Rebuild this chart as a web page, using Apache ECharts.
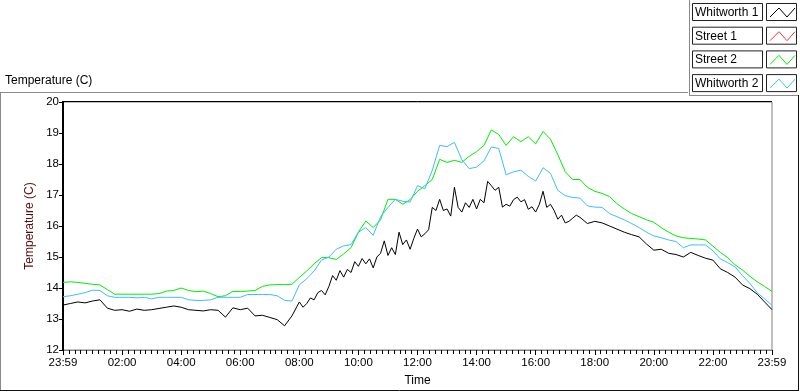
<!DOCTYPE html>
<html>
<head>
<meta charset="utf-8">
<script src="https://cdn.jsdelivr.net/npm/echarts@6/dist/echarts.min.js"></script>
<style>
  html, body { margin: 0; padding: 0; background: #fff; }
  #chart { width: 800px; height: 392px; }
</style>
</head>
<body>
<div id="chart"></div>
<script>
// Hours since 23:59 the previous night, sampled every 15 minutes
const hours = [
  0, 0.25, 0.5, 0.75, 1, 1.25, 1.5, 1.75, 2, 2.25, 2.5, 2.75, 3, 3.25, 3.5, 3.75,
  4, 4.25, 4.5, 4.75, 5, 5.25, 5.5, 5.75, 6, 6.25, 6.5, 6.75, 7, 7.25, 7.5, 7.75,
  8, 8.25, 8.5, 8.75, 9, 9.25, 9.5, 9.75, 10, 10.25, 10.5, 10.75, 11, 11.25, 11.5, 11.75,
  12, 12.25, 12.5, 12.75, 13, 13.25, 13.5, 13.75, 14, 14.25, 14.5, 14.75, 15, 15.25, 15.5, 15.75,
  16, 16.25, 16.5, 16.75, 17, 17.25, 17.5, 17.75, 18, 18.25, 18.5, 18.75, 19, 19.25, 19.5, 19.75,
  20, 20.25, 20.5, 20.75, 21, 21.25, 21.5, 21.75, 22, 22.25, 22.5, 22.75, 23, 23.25, 23.5, 23.75, 24
];

// Whitworth 1 is noisier, so it is read more finely through the day
const hoursW1 = [
  0, 0.25, 0.5, 0.75, 1, 1.25, 1.5, 1.75, 2, 2.25, 2.5, 2.75, 3, 3.25, 3.5, 3.75,
  4, 4.25, 4.5, 4.75, 5, 5.25, 5.5, 5.75, 6, 6.25, 6.5, 6.75, 7, 7.25, 7.5, 7.75,
  8, 8.125, 8.25, 8.375, 8.5, 8.625, 8.75, 8.875, 9, 9.125, 9.25, 9.375, 9.5, 9.625, 9.75, 9.875,
  10, 10.125, 10.25, 10.375, 10.5, 10.625, 10.75, 10.875, 11, 11.125, 11.25, 11.375, 11.5, 11.625, 11.75, 11.875,
  12, 12.125, 12.25, 12.375, 12.5, 12.625, 12.75, 12.875, 13, 13.125, 13.25, 13.375, 13.5, 13.625, 13.75, 13.875,
  14, 14.125, 14.25, 14.375, 14.5, 14.625, 14.75, 14.875, 15, 15.125, 15.25, 15.375, 15.5, 15.625, 15.75, 15.875,
  16, 16.125, 16.25, 16.375, 16.5, 16.625, 16.75, 16.875, 17, 17.125, 17.25, 17.375, 17.5,
  17.75, 18, 18.25, 18.5, 18.75, 19, 19.25, 19.5, 19.75,
  20, 20.25, 20.5, 20.75, 21, 21.25, 21.5, 21.75, 22, 22.25, 22.5, 22.75, 23, 23.25, 23.5, 23.75, 24
];

const whitworth1 = [
  13.45, 13.5, 13.55, 13.52, 13.58, 13.62, 13.35, 13.28, 13.3, 13.25, 13.32, 13.28, 13.3, 13.34, 13.38, 13.42,
  13.38, 13.3, 13.28, 13.26, 13.3, 13.28, 13.06, 13.36, 13.3, 13.35, 13.1, 13.12, 13.05, 12.98, 12.78, 13.1,
  13.55, 13.38, 13.5, 13.68, 13.62, 13.85, 13.92, 13.78, 14.05, 14.4, 14.25, 14.56, 14.35, 14.6, 14.5, 14.85,
  14.7, 14.95, 14.78, 14.94, 14.65, 15.0, 15.12, 15.52, 15.05, 15.3, 15.08, 15.8, 15.4, 15.55, 15.25, 15.6,
  15.9, 15.65, 15.75, 15.88, 16.6, 16.5, 16.86, 16.5, 16.55, 16.32, 17.25, 16.6, 16.45, 16.75, 16.6, 16.86,
  16.55, 16.86, 16.75, 17.44, 17.3, 17.15, 17.25, 16.61, 16.7, 16.64, 16.85, 16.93, 16.78, 16.85, 16.54, 16.62,
  16.45, 16.7, 17.12, 16.6, 16.7, 16.5, 16.22, 16.35, 16.1, 16.15, 16.25, 16.35, 16.28,
  16.08, 16.15, 16.1, 16.0, 15.9, 15.8, 15.72, 15.65, 15.42,
  15.22, 15.25, 15.12, 15.08, 15.0, 15.15, 15.05, 14.96, 14.9, 14.62, 14.5, 14.35, 14.1, 13.98, 13.8, 13.55, 13.3
];

const street1 = [];

const street2 = [
  14.18, 14.2, 14.18, 14.15, 14.12, 14.1, 13.95, 13.8, 13.8, 13.8, 13.8, 13.8, 13.8, 13.82, 13.9, 13.92,
  14.0, 13.92, 13.88, 13.9, 13.82, 13.72, 13.75, 13.89, 13.89, 13.9, 13.92, 14.05, 14.1, 14.11, 14.11, 14.12,
  14.34, 14.55, 14.78, 14.98, 14.98, 14.92, 15.1, 15.3, 15.8, 16.16, 15.95, 16.2, 16.86, 16.86, 16.7, 16.85,
  17.12, 17.3, 17.5, 18.15, 18.05, 18.12, 18.05, 18.25, 18.4, 18.6, 19.1, 18.95, 18.6, 18.88, 18.72, 18.88,
  18.65, 19.05, 18.8, 18.3, 17.75, 17.5, 17.5, 17.25, 17.12, 17.05, 16.95, 16.72, 16.55, 16.4, 16.3, 16.2,
  16.12, 15.95, 15.8, 15.68, 15.62, 15.6, 15.58, 15.55, 15.35, 15.15, 14.98, 14.75, 14.58, 14.38, 14.2, 14.05, 13.89
];

const whitworth2 = [
  13.72, 13.75, 13.8, 13.85, 13.93, 13.92, 13.75, 13.7, 13.7, 13.7, 13.68, 13.7, 13.65, 13.7, 13.7, 13.7,
  13.7, 13.62, 13.6, 13.6, 13.62, 13.7, 13.7, 13.7, 13.7, 13.79, 13.79, 13.79, 13.79, 13.75, 13.6, 13.58,
  14.1, 14.3, 14.55, 14.9, 15.0, 15.25, 15.36, 15.4, 15.8, 15.95, 15.7, 16.3, 16.6, 16.86, 16.8, 16.77,
  17.3, 17.2, 17.8, 18.6, 18.56, 18.7, 18.14, 17.85, 17.9, 18.1, 18.55, 18.5, 17.65, 17.75, 17.8, 17.6,
  17.45, 17.88, 17.7, 17.15, 16.98, 16.92, 16.9, 16.65, 16.61, 16.6, 16.4, 16.3, 16.2, 16.08, 15.95, 15.8,
  15.68, 15.62, 15.55, 15.5, 15.3, 15.39, 15.39, 15.39, 15.2, 14.94, 14.82, 14.68, 14.4, 14.15, 13.85, 13.65, 13.44
];

const seriesNames = ['Whitworth 1', 'Street 1', 'Street 2', 'Whitworth 2'];
const seriesColors = ['#000000', '#ff3030', '#00ee00', '#3dbdff'];
const seriesValues = [whitworth1, street1, street2, whitworth2];
const seriesHours = [hoursW1, hours, hours, hours];

const X_MIN = 0, X_MAX = 24, Y_MIN = 12, Y_MAX = 20;
const FONT = 'Liberation Sans';

function timeLabel(v) {
  if (v === 0 || v === 24) return '23:59';
  return String(v).padStart(2, '0') + ':00';
}

// Legend drawn as boxed labels with a zigzag swatch, like the instrument panel
function legendGraphics() {
  const out = [];
  seriesNames.forEach((name, i) => {
    const y = 3 + i * 23.7;
    out.push({
      type: 'rect', shape: { x: 692.5, y: y + 0.5, width: 70, height: 17 },
      style: { fill: '#fff', stroke: '#222', lineWidth: 1 }
    });
    out.push({
      type: 'text', x: 695, y: y + 9.5,
      style: { text: name, font: `12px "${FONT}"`, fill: '#000', verticalAlign: 'middle' }
    });
    out.push({
      type: 'rect', shape: { x: 766.5, y: y + 0.5, width: 30, height: 17 },
      style: { fill: '#fff', stroke: '#222', lineWidth: 1 }
    });
    out.push({
      type: 'polyline',
      shape: { points: [[770, y + 14], [779, y + 5], [787, y + 14], [795, y + 5]] },
      style: { stroke: seriesColors[i], lineWidth: 1, fill: null }
    });
  });
  return out;
}

const chart = echarts.init(document.getElementById('chart'), null, { renderer: 'canvas' });

chart.setOption({
  animation: false,
  backgroundColor: '#fff',
  textStyle: { fontFamily: FONT },
  grid: {
    left: 63, right: 28, top: 102, bottom: 40,
    show: true, borderColor: '#808080', borderWidth: 1, backgroundColor: 'transparent'
  },
  xAxis: [{
    type: 'value',
    min: X_MIN, max: X_MAX, interval: 2,
    name: 'Time',
    nameLocation: 'middle',
    nameGap: 25,
    nameTextStyle: { color: '#000', fontSize: 12, fontFamily: FONT },
    axisLine: { show: true, onZero: false, lineStyle: { color: '#808080', width: 1 } },
    axisTick: { show: true, length: 5, lineStyle: { color: '#000' } },
    minorTick: { show: true, splitNumber: 10, length: 3, lineStyle: { color: '#000' } },
    axisLabel: { formatter: timeLabel, color: '#000', fontSize: 11.5, margin: 7, fontFamily: FONT },
    splitLine: { show: false }
  }, {
    // minor ticks every 12 minutes
    type: 'value', position: 'bottom', offset: 1, min: X_MIN, max: X_MAX, interval: 0.2,
    axisLine: { show: false, onZero: false },
    axisTick: { show: true, length: 3, lineStyle: { color: '#000' } },
    axisLabel: { show: false },
    splitLine: { show: false }
  }],
  yAxis: {
    type: 'value',
    min: Y_MIN, max: Y_MAX, interval: 1,
    name: 'Temperature (C)',
    nameLocation: 'middle',
    nameGap: 26,
    nameTextStyle: { color: '#5a0a0a', fontSize: 12, fontFamily: FONT },
    axisLine: { show: true, onZero: false, lineStyle: { color: '#000', width: 1 } },
    axisTick: { show: true, length: 4, lineStyle: { color: '#000' } },
    axisLabel: { color: '#000', fontSize: 11.5, margin: 4, fontFamily: FONT },
    splitLine: { show: false }
  },
  series: seriesNames.map((name, i) => ({
    name,
    type: 'line',
    data: seriesValues[i].map((v, j) => [seriesHours[i][j], v]),
    showSymbol: false,
    symbol: 'none',
    lineStyle: { color: seriesColors[i], width: 1 },
    itemStyle: { color: seriesColors[i] },
    z: 3 + i
  })),
  graphic: [
    { type: 'text', x: 5, y: 75, style: { text: 'Temperature (C)', font: `12px "${FONT}"`, fill: '#000' } },
    { type: 'line', shape: { x1: 0, y1: 92.5, x2: 688, y2: 92.5 }, style: { stroke: '#8a8a8a', lineWidth: 1 } },
    { type: 'line', shape: { x1: 689.5, y1: 0, x2: 689.5, y2: 95 }, style: { stroke: '#8a8a8a', lineWidth: 1 } },
    { type: 'line', shape: { x1: 689, y1: 95.5, x2: 798, y2: 95.5 }, style: { stroke: '#8a8a8a', lineWidth: 1 } },
    { type: 'line', shape: { x1: 0.5, y1: 92, x2: 0.5, y2: 391 }, style: { stroke: '#8a8a8a', lineWidth: 1 } },
    { type: 'line', shape: { x1: 798.5, y1: 95, x2: 798.5, y2: 391 }, style: { stroke: '#111', lineWidth: 1 } },
    { type: 'line', shape: { x1: 0, y1: 390.5, x2: 799, y2: 390.5 }, style: { stroke: '#111', lineWidth: 1 } },
    ...legendGraphics()
  ]
});

// Sunken-frame look: black top and left edges of the plot, placed via the axes' scales
const tl = chart.convertToPixel({ gridIndex: 0 }, [X_MIN, Y_MAX]);
const tr = chart.convertToPixel({ gridIndex: 0 }, [X_MAX, Y_MAX]);
const bl = chart.convertToPixel({ gridIndex: 0 }, [X_MIN, Y_MIN]);
const snap = v => Math.round(v) + 0.5;
chart.setOption({
  graphic: [
    { id: 'plotTop', type: 'line', z: 50, shape: { x1: tl[0], y1: snap(tl[1]) - 1, x2: tr[0], y2: snap(tl[1]) - 1 }, style: { stroke: '#000', lineWidth: 1 } },
    { id: 'plotLeft', type: 'line', z: 50, shape: { x1: snap(tl[0]) - 1, y1: tl[1] - 1, x2: snap(bl[0]) - 1, y2: bl[1] }, style: { stroke: '#000', lineWidth: 1 } }
  ]
});
</script>
</body>
</html>
